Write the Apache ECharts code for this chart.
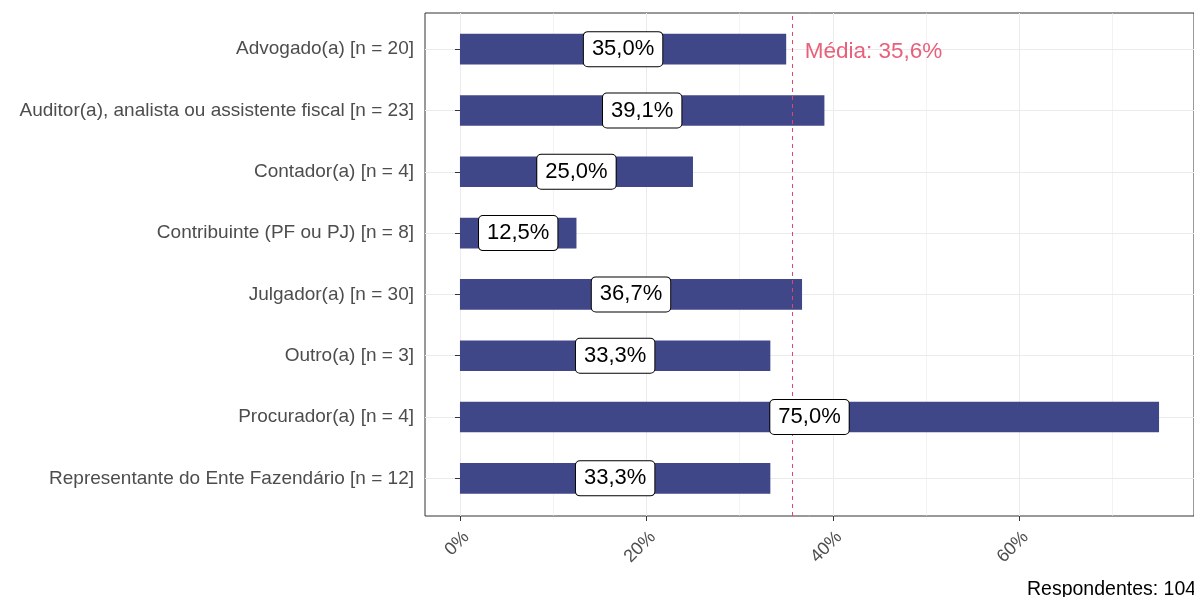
<!DOCTYPE html>
<html>
<head>
<meta charset="utf-8">
<script src="https://cdn.jsdelivr.net/npm/echarts@6/dist/echarts.min.js"></script>
<style>
  html, body { margin: 0; padding: 0; background: #fff; }
  #main { width: 1194px; height: 597px; }
</style>
</head>
<body>
<div id="main"></div>
<script>
// categorias e percentuais
var categorias = [
  'Advogado(a) [n = 20]',
  'Auditor(a), analista ou assistente fiscal [n = 23]',
  'Contador(a) [n = 4]',
  'Contribuinte (PF ou PJ) [n = 8]',
  'Julgador(a) [n = 30]',
  'Outro(a) [n = 3]',
  'Procurador(a) [n = 4]',
  'Representante do Ente Fazendário [n = 12]'
]
var percentuais = [35.0, 39.1, 25.0, 12.5, 36.7, 33.3, 75.0, 33.3]
var media = 35.6
var respondentes = 104
var ticksPrincipais = [0, 20, 40, 60]
var ticksSecundarios = [10, 30, 50, 70]

function pct(v) {
  return v.toFixed(1).replace('.', ',') + '%'
}

var myChart = echarts.init(document.getElementById('main'))

var gradeV = ticksPrincipais.map(function (v) {
  return { xAxis: v, lineStyle: { width: 1 } }
}).concat(ticksSecundarios.map(function (v) {
  return { xAxis: v, lineStyle: { width: 0.6 } }
}))

var gradeH = categorias.map(function (c) {
  return { yAxis: c }
})

var option = {
  animation: false,
  textStyle: { fontFamily: 'Liberation Sans, Arial, sans-serif' },
  title: {
    text: 'Respondentes: ' + respondentes,
    left: 1027,
    top: 580,
    padding: 0,
    textStyle: { fontSize: 19.5, fontWeight: 'normal', color: '#000' }
  },
  grid: [
    // painel (borda, eixo x, grade vertical)
    { left: 425, right: -4, top: 13, bottom: 81, show: true, borderColor: '#333', borderWidth: 1, backgroundColor: 'transparent' },
    // barras
    { left: 425, right: -4, top: 18.5, bottom: 88 }
  ],
  xAxis: [
    {
      gridIndex: 0,
      type: 'value',
      min: -3.75,
      max: 78.75,
      axisLine: { show: false },
      axisTick: { show: true, customValues: ticksPrincipais, length: 5, lineStyle: { color: '#333' } },
      axisLabel: {
        customValues: ticksPrincipais,
        rotate: 45,
        margin: 12,
        verticalAlign: 'top',
        fontSize: 18,
        color: '#4D4D4D',
        formatter: function (v) { return v + '%' }
      },
      splitLine: { show: false }
    },
    {
      gridIndex: 1,
      type: 'value',
      min: -3.75,
      max: 78.75,
      show: false
    }
  ],
  yAxis: [
    { gridIndex: 0, type: 'value', min: 0, max: 1, show: false },
    {
      gridIndex: 1,
      type: 'category',
      inverse: true,
      data: categorias,
      axisLine: { show: false },
      axisTick: { show: true, alignWithLabel: true, length: 5, lineStyle: { color: '#333' } },
      axisLabel: { color: '#4D4D4D', fontSize: 19, margin: 11 },
      splitLine: { show: false }
    }
  ],
  series: [
    {
      // grade vertical
      type: 'scatter',
      xAxisIndex: 0,
      yAxisIndex: 0,
      data: [],
      silent: true,
      z: 0,
      markLine: {
        silent: true,
        symbol: 'none',
        z: 0,
        label: { show: false },
        lineStyle: { color: '#EBEBEB', type: 'solid' },
        data: gradeV
      }
    },
    {
      type: 'bar',
      xAxisIndex: 1,
      yAxisIndex: 1,
      data: percentuais,
      barWidth: '50%',
      itemStyle: { color: '#404788' },
      z: 2,
      markLine: {
        silent: true,
        symbol: 'none',
        z: 0,
        label: { show: false },
        lineStyle: { color: '#EBEBEB', type: 'solid', width: 1 },
        data: gradeH
      }
    },
    {
      // linha da media
      type: 'scatter',
      xAxisIndex: 0,
      yAxisIndex: 0,
      data: [],
      silent: true,
      z: 3,
      markLine: {
        silent: true,
        symbol: 'none',
        z: 3,
        label: { show: false },
        lineStyle: { color: '#E0466A', type: [4, 4], width: 1 },
        data: [{ xAxis: media }]
      }
    },
    {
      // rotulos por cima da linha da media
      type: 'bar',
      xAxisIndex: 1,
      yAxisIndex: 1,
      data: percentuais,
      barWidth: '50%',
      barGap: '-100%',
      itemStyle: { color: 'transparent' },
      z: 4,
      label: {
        show: true,
        position: 'inside',
        color: '#000',
        fontSize: 22,
        backgroundColor: '#fff',
        borderColor: '#000',
        borderWidth: 1,
        borderRadius: 4,
        padding: [6, 8, 6, 8],
        formatter: function (p) { return pct(p.value) }
      },
      markPoint: {
        symbol: 'circle',
        symbolSize: 0,
        silent: true,
        label: {
          show: true,
          position: 'right',
          distance: 13,
          offset: [0, 3],
          color: '#E8607A',
          fontSize: 22.5,
          formatter: 'Média: ' + pct(media)
        },
        data: [{ coord: [media, categorias[0]] }]
      }
    }
  ]
}
myChart.setOption(option)
</script>
</body>
</html>
